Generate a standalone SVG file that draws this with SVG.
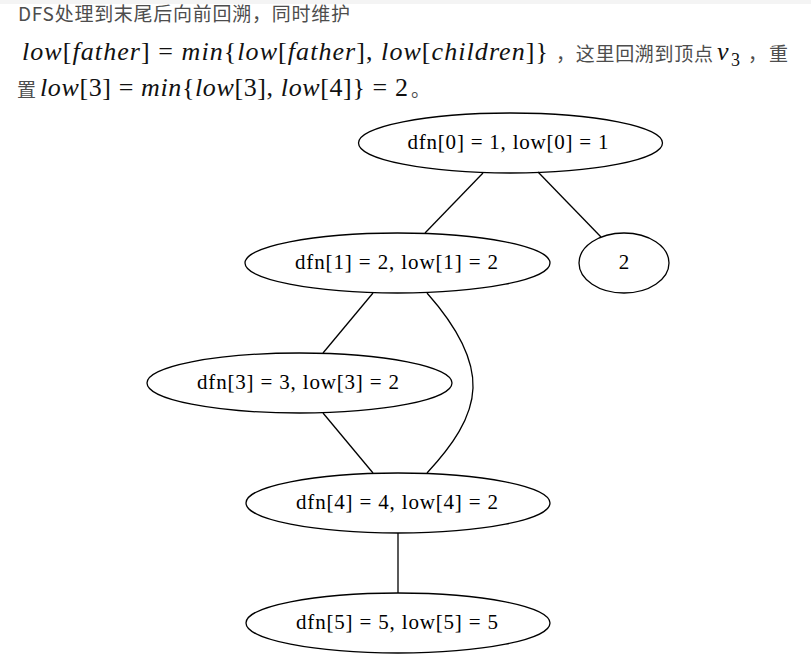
<svg xmlns="http://www.w3.org/2000/svg" width="811" height="667" viewBox="0 0 811 667">
<style>
.cjk{font-family:"Noto Sans CJK SC","Noto Sans CJK JP",sans-serif;font-size:19px;fill:#4d4d4d}
.m{font-family:"Liberation Serif","Times New Roman","DejaVu Serif",serif;font-size:26px;fill:#111111}
.i{font-style:italic}
.sub{font-size:18px}
.lbl{font-family:"Liberation Serif","Times New Roman","DejaVu Serif",serif;font-size:21px;fill:#000000;text-anchor:middle}
.shape{fill:none;stroke:#000000;stroke-width:1.3}
.edge{fill:none;stroke:#000000;stroke-width:1.3}
</style>
<rect x="0" y="0" width="811" height="667" fill="#ffffff"/>
<rect x="0" y="0" width="811" height="4" fill="#f4f4f4"/>
<g id="caption">
<text class="cjk" x="18" y="21" textLength="332">DFS处理到末尾后向前回溯，同时维护</text>
<text class="m" x="22" y="60" textLength="526"><tspan class="i">low</tspan>[<tspan class="i">father</tspan>] = <tspan class="i">min</tspan>{<tspan class="i">low</tspan>[<tspan class="i">father</tspan>], <tspan class="i">low</tspan>[<tspan class="i">children</tspan>]}</text>
<text class="cjk" x="556" y="61" textLength="157">，这里回溯到顶点</text>
<text class="m i" x="717" y="60">v</text>
<text class="m sub" x="731" y="66">3</text>
<text class="cjk" x="748" y="61" textLength="40">，重</text>
<text class="cjk" x="17" y="97">置</text>
<text class="m" x="40" y="96" textLength="368"><tspan class="i">low</tspan>[3] = <tspan class="i">min</tspan>{<tspan class="i">low</tspan>[3], <tspan class="i">low</tspan>[4]} = 2</text>
<text class="cjk" x="411" y="97">。</text>
</g>
<g id="edges">
<path class="edge" d="M483,173 L425,233"/>
<path class="edge" d="M538,172 L601,237"/>
<path class="edge" d="M373,293 L323,353"/>
<path class="edge" d="M427,293 C458,328 474,360 473,388 C472,418 452,446 427,473"/>
<path class="edge" d="M323,413 L373,473"/>
<path class="edge" d="M398,533 L398,593"/>
</g>
<g id="n0"><ellipse class="shape" cx="510.5" cy="143" rx="152" ry="30"/><text class="lbl" x="508" y="149" textLength="201">dfn[0] = 1, low[0] = 1</text></g>
<g id="n1"><ellipse class="shape" cx="397.5" cy="263" rx="152.5" ry="30"/><text class="lbl" x="396.5" y="269" textLength="203">dfn[1] = 2, low[1] = 2</text></g>
<g id="n2"><ellipse class="shape" cx="624" cy="263" rx="45" ry="30"/><text class="lbl" x="624" y="269">2</text></g>
<g id="n3"><ellipse class="shape" cx="299.5" cy="383" rx="152.5" ry="30"/><text class="lbl" x="298" y="389" textLength="202">dfn[3] = 3, low[3] = 2</text></g>
<g id="n4"><ellipse class="shape" cx="398" cy="503" rx="152" ry="30"/><text class="lbl" x="397" y="509" textLength="202">dfn[4] = 4, low[4] = 2</text></g>
<g id="n5"><ellipse class="shape" cx="398" cy="623" rx="152" ry="30"/><text class="lbl" x="397" y="629" textLength="202">dfn[5] = 5, low[5] = 5</text></g>
</svg>
